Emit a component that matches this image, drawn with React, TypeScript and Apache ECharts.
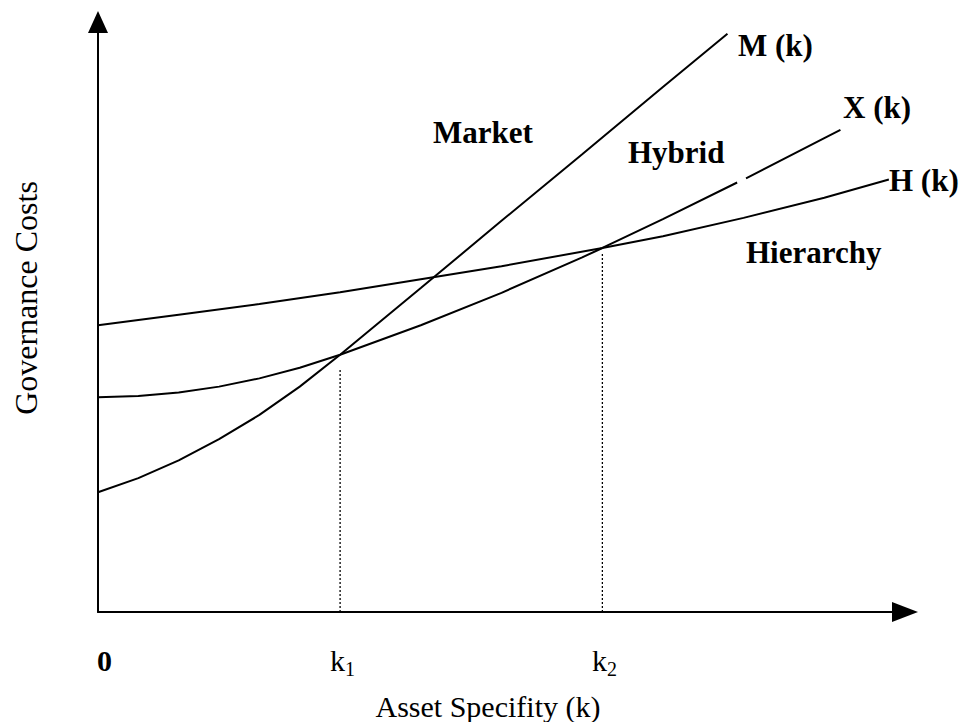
import React, { useEffect, useRef } from "react";
import * as echarts from "echarts";

// Asset specificity (x) and governance cost (y) readings, in axis units (0-100)
const mX = [0, 5, 10, 15, 20, 25, 30, 40, 50, 60, 70, 78];
const mY = [20.3, 22.7, 25.7, 29.3, 33.4, 38.2, 43.6, 54.9, 66.3, 77.6, 89.0, 98.0];

const xX1 = [0, 5, 10, 15, 20, 25, 30, 40, 50, 60, 62.5, 70, 79.2];
const xY1 = [36.4, 36.6, 37.2, 38.2, 39.6, 41.4, 43.6, 48.6, 54.1, 60.1, 61.7, 66.6, 72.8];
const xX2 = [80.3, 90, 92];
const xY2 = [73.5, 80.3, 81.7];

const hX = [0, 10, 20, 30, 40, 50, 62.5, 70, 80, 90, 98];
const hY = [48.6, 50.4, 52.2, 54.2, 56.4, 58.6, 61.7, 63.7, 66.8, 70.2, 73.3];

const kX = [30, 62.5];
const kTop = [41.0, 61.0];

const zip = (a: number[], b: number[]) => a.map((v, i) => [v, b[i]]);

const SERIF = "'Liberation Serif', 'Times New Roman', 'DejaVu Serif', serif";

export default function App() {
  const ref = useRef<HTMLDivElement>(null);
  useEffect(() => {
    document.body.style.margin = "0";
    const chart = echarts.init(ref.current!, null, { renderer: "svg" });
    const lineStyle = { color: "#000", width: 2 };
    const curve = (name: string, data: number[][]) => ({
      name,
      type: "line",
      data,
      showSymbol: false,
      symbol: "none",
      lineStyle,
      silent: true,
    });
    const txt = (text: string, x: number, y: number, opts: any = {}) => ({
      type: "text",
      x,
      y,
      rotation: opts.rotation || 0,
      style: {
        text,
        fontFamily: SERIF,
        fontSize: opts.fontSize || 31,
        fontWeight: opts.bold ? "bold" : "normal",
        fill: "#000",
        align: opts.align || "left",
        verticalAlign: "middle",
      },
    });
    chart.setOption({
      animation: false,
      backgroundColor: "#fff",
      grid: { left: 98, top: 22, right: 57, bottom: 110 },
      xAxis: {
        type: "value",
        min: 0,
        max: 100,
        axisLine: {
          show: true,
          symbol: ["none", "triangle"],
          symbolSize: [20, 26],
          lineStyle: { color: "#000", width: 2 },
        },
        axisTick: { show: false },
        axisLabel: { show: false },
        splitLine: { show: false },
      },
      yAxis: {
        type: "value",
        min: 0,
        max: 100,
        axisLine: {
          show: true,
          symbol: ["none", "triangle"],
          symbolSize: [20, 22],
          lineStyle: { color: "#000", width: 2 },
        },
        axisTick: { show: false },
        axisLabel: { show: false },
        splitLine: { show: false },
      },
      series: [
        curve("M (k)", zip(mX, mY)),
        curve("X (k)", zip(xX1, xY1)),
        curve("X (k) upper", zip(xX2, xY2)),
        curve("H (k)", zip(hX, hY)),
        ...kX.map((k, i) => ({
          name: "k" + (i + 1),
          type: "line",
          data: [
            [k, 0],
            [k, kTop[i]],
          ],
          showSymbol: false,
          symbol: "none",
          lineStyle: { color: "#000", width: 1.3, type: [2, 2] },
          silent: true,
        })),
      ],
      graphic: [
        txt("M (k)", 738, 45, { bold: true }),
        txt("X (k)", 843, 107, { bold: true }),
        txt("H (k)", 889, 180, { bold: true }),
        txt("Market", 433, 132, { bold: true }),
        txt("Hybrid", 628, 152, { bold: true }),
        txt("Hierarchy", 746, 252, { bold: true }),
        txt("0", 97, 660, { bold: true, fontSize: 30 }),
        txt("k", 330, 660, { fontSize: 30 }),
        txt("1", 345, 669, { fontSize: 20 }),
        txt("k", 592, 660, { fontSize: 30 }),
        txt("2", 607, 669, { fontSize: 20 }),
        txt("Asset Specifity (k)", 488, 706, { align: "center", fontSize: 30 }),
        txt("Governance Costs", 26, 298, { align: "center", rotation: Math.PI / 2, fontSize: 32 }),
      ],
    });
    return () => chart.dispose();
  }, []);
  return <div ref={ref} style={{ width: 962, height: 722 }} />;
}
